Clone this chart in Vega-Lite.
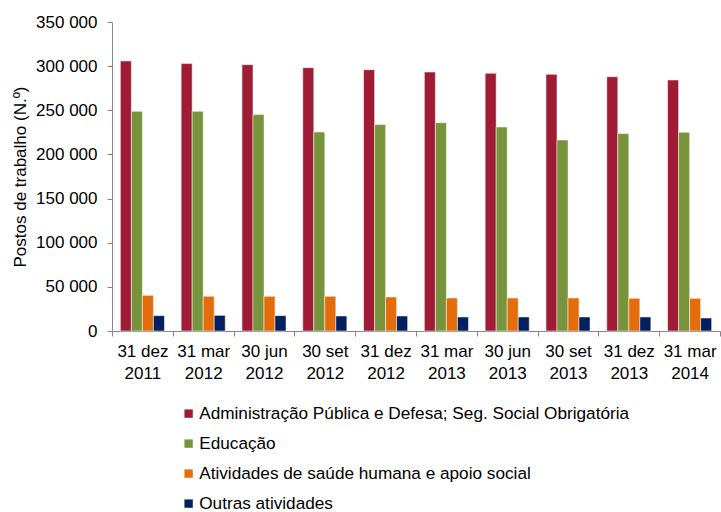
{
  "$schema": "https://vega.github.io/schema/vega-lite/v6.json",
  "width": 608,
  "height": 309,
  "autosize": {"type": "none"},
  "padding": {"left": 112, "top": 22, "right": 1, "bottom": 181},
  "background": "white",
  "config": {
    "view": {"stroke": null},
    "font": "Liberation Sans",
    "axis": {"domainColor": "#868686", "tickColor": "#868686", "grid": false, "labelColor": "#000000", "titleColor": "#000000", "labelFont": "Liberation Sans", "titleFont": "Liberation Sans"}
  },
  "data": {
    "values": [
      {"periodo": "31 dez 2011", "serie": "Administração Pública e Defesa; Seg. Social Obrigatória", "valor": 305800},
      {"periodo": "31 dez 2011", "serie": "Educação", "valor": 248800},
      {"periodo": "31 dez 2011", "serie": "Atividades de saúde humana e apoio social", "valor": 40400},
      {"periodo": "31 dez 2011", "serie": "Outras atividades", "valor": 17400},
      {"periodo": "31 mar 2012", "serie": "Administração Pública e Defesa; Seg. Social Obrigatória", "valor": 302900},
      {"periodo": "31 mar 2012", "serie": "Educação", "valor": 248800},
      {"periodo": "31 mar 2012", "serie": "Atividades de saúde humana e apoio social", "valor": 39300},
      {"periodo": "31 mar 2012", "serie": "Outras atividades", "valor": 17700},
      {"periodo": "30 jun 2012", "serie": "Administração Pública e Defesa; Seg. Social Obrigatória", "valor": 301700},
      {"periodo": "30 jun 2012", "serie": "Educação", "valor": 245100},
      {"periodo": "30 jun 2012", "serie": "Atividades de saúde humana e apoio social", "valor": 39300},
      {"periodo": "30 jun 2012", "serie": "Outras atividades", "valor": 17400},
      {"periodo": "30 set 2012", "serie": "Administração Pública e Defesa; Seg. Social Obrigatória", "valor": 298300},
      {"periodo": "30 set 2012", "serie": "Educação", "valor": 225400},
      {"periodo": "30 set 2012", "serie": "Atividades de saúde humana e apoio social", "valor": 39300},
      {"periodo": "30 set 2012", "serie": "Outras atividades", "valor": 17000},
      {"periodo": "31 dez 2012", "serie": "Administração Pública e Defesa; Seg. Social Obrigatória", "valor": 296000},
      {"periodo": "31 dez 2012", "serie": "Educação", "valor": 233800},
      {"periodo": "31 dez 2012", "serie": "Atividades de saúde humana e apoio social", "valor": 38500},
      {"periodo": "31 dez 2012", "serie": "Outras atividades", "valor": 17000},
      {"periodo": "31 mar 2013", "serie": "Administração Pública e Defesa; Seg. Social Obrigatória", "valor": 293300},
      {"periodo": "31 mar 2013", "serie": "Educação", "valor": 236000},
      {"periodo": "31 mar 2013", "serie": "Atividades de saúde humana e apoio social", "valor": 37400},
      {"periodo": "31 mar 2013", "serie": "Outras atividades", "valor": 15900},
      {"periodo": "30 jun 2013", "serie": "Administração Pública e Defesa; Seg. Social Obrigatória", "valor": 291900},
      {"periodo": "30 jun 2013", "serie": "Educação", "valor": 231000},
      {"periodo": "30 jun 2013", "serie": "Atividades de saúde humana e apoio social", "valor": 37400},
      {"periodo": "30 jun 2013", "serie": "Outras atividades", "valor": 15900},
      {"periodo": "30 set 2013", "serie": "Administração Pública e Defesa; Seg. Social Obrigatória", "valor": 290700},
      {"periodo": "30 set 2013", "serie": "Educação", "valor": 216300},
      {"periodo": "30 set 2013", "serie": "Atividades de saúde humana e apoio social", "valor": 37400},
      {"periodo": "30 set 2013", "serie": "Outras atividades", "valor": 15900},
      {"periodo": "31 dez 2013", "serie": "Administração Pública e Defesa; Seg. Social Obrigatória", "valor": 288100},
      {"periodo": "31 dez 2013", "serie": "Educação", "valor": 223600},
      {"periodo": "31 dez 2013", "serie": "Atividades de saúde humana e apoio social", "valor": 37000},
      {"periodo": "31 dez 2013", "serie": "Outras atividades", "valor": 15900},
      {"periodo": "31 mar 2014", "serie": "Administração Pública e Defesa; Seg. Social Obrigatória", "valor": 284300},
      {"periodo": "31 mar 2014", "serie": "Educação", "valor": 225000},
      {"periodo": "31 mar 2014", "serie": "Atividades de saúde humana e apoio social", "valor": 37000},
      {"periodo": "31 mar 2014", "serie": "Outras atividades", "valor": 14700}
    ]
  },
  "mark": {"type": "bar", "stroke": "white", "strokeWidth": 0.5},
  "encoding": {
    "x": {
      "field": "periodo",
      "type": "nominal",
      "sort": null,
      "scale": {"paddingInner": 0, "paddingOuter": 0},
      "axis": {
        "title": null,
        "labelAngle": 0,
        "bandPosition": 0,
        "labelPadding": 7,
        "tickSize": 5,
        "tickBand": "extent",
        "labelFontSize": 17,
        "labelLineHeight": 22,
        "labelBaseline": "top",
        "labelExpr": "[slice(datum.label, 0, -5), slice(datum.label, -4)]"
      }
    },
    "xOffset": {
      "field": "serie",
      "type": "nominal",
      "sort": null,
      "scale": {"paddingInner": 0, "paddingOuter": 0.76}
    },
    "y": {
      "field": "valor",
      "type": "quantitative",
      "scale": {"domain": [0, 350000], "nice": false},
      "axis": {
        "title": "Postos de trabalho (N.º)",
        "titleFontSize": 17,
        "titleFontWeight": "normal",
        "titlePadding": 6,
        "values": [0, 50000, 100000, 150000, 200000, 250000, 300000, 350000],
        "labelExpr": "replace(format(datum.value, ','), ',', ' ')",
        "labelFontSize": 17,
        "labelPadding": 10,
        "tickSize": 5
      }
    },
    "color": {
      "field": "serie",
      "type": "nominal",
      "sort": null,
      "scale": {
        "domain": ["Administração Pública e Defesa; Seg. Social Obrigatória", "Educação", "Atividades de saúde humana e apoio social", "Outras atividades"],
        "range": ["#A01C34", "#77933C", "#E46C0A", "#002060"]
      },
      "legend": {
        "title": null,
        "orient": "none",
        "legendX": 68,
        "legendY": 383,
        "direction": "vertical",
        "symbolType": "square",
        "symbolSize": 70,
        "symbolStrokeWidth": 0,
        "symbolOpacity": 1,
        "labelFontSize": 17.2,
        "labelFont": "Liberation Sans",
        "labelColor": "#000000",
        "labelOffset": 2,
        "rowPadding": 12,
        "labelLimit": 600
      }
    }
  }
}
